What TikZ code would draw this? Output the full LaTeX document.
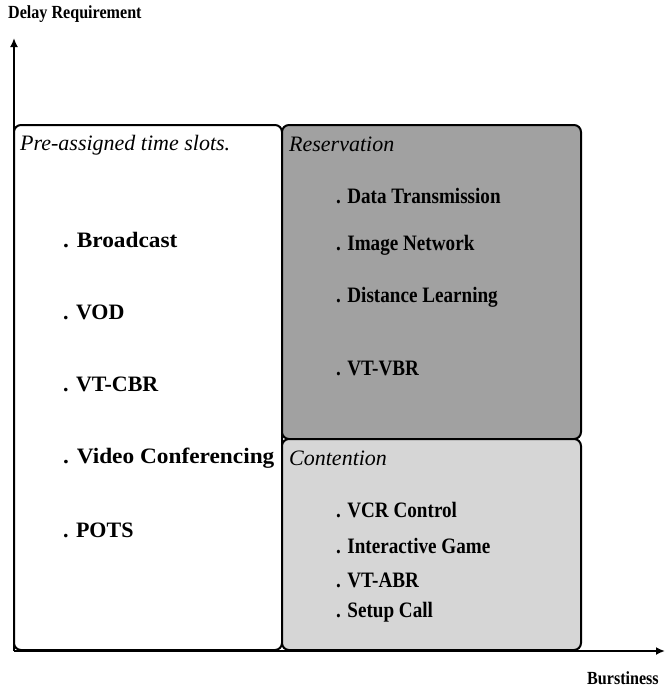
\documentclass[tikz,border=0pt]{standalone}
\usepackage{fontspec}
\setmainfont{Liberation Serif}
\newfontfamily\condbf[FakeStretch=0.87]{Liberation Serif Bold}
\newfontfamily\widebf{Liberation Serif Bold}
\newfontfamily\widerbf[FakeStretch=1.06]{Liberation Serif Bold}
\newfontfamily\itfont{Liberation Serif Italic}
\usetikzlibrary{arrows.meta}
\begin{document}
\begin{tikzpicture}[x=1pt,y=-1pt,
  boxline/.style={draw=black,line width=2pt,rounded corners=7pt},
  axisline/.style={draw=black,line width=2.4pt,-{Latex[length=9pt,width=8pt]}},
  cat/.style={anchor=west,inner sep=0pt,font=\itfont\fontsize{22}{24}\selectfont},
  item/.style={anchor=west,inner sep=0pt,font=\condbf\fontsize{22}{24}\selectfont},
  leftitem/.style={anchor=west,inner sep=0pt,font=\widebf\fontsize{22}{24}\selectfont},
  wideitem/.style={leftitem,font=\widerbf\fontsize{22}{24}\selectfont},
  axlabel/.style={anchor=west,inner sep=0pt,font=\condbf\fontsize{18.5}{20}\selectfont}]
\useasboundingbox (0,0) rectangle (665,689);
% boxes
\path[boxline,fill=white] (14,125) rectangle (282,650);
\path[boxline,fill=black!37] (282,125) rectangle (581,439);
\path[boxline,fill=black!16] (282,439) rectangle (581,650);
% axes
\coordinate (o) at (14,651);
\coordinate (ytip) at (14,38);
\coordinate (xtip) at (665,651);
\draw[axisline] (o) -- (ytip);
\draw[axisline] (o) -- (xtip);
% axis labels
\node[axlabel] (ylab) at (8,14) {Delay Requirement};
\node[axlabel] (xlab) at (587,678) {Burstiness};
% category titles
\node[cat] (pre) at (20,145) {Pre-assigned time slots.};
\node[cat] (res) at (289,144) {Reservation};
\node[cat] (con) at (289,458) {Contention};
% left items
\node[wideitem] (l1) at (63,240) {. Broadcast};
\node[leftitem] (l2) at (63,312) {. VOD};
\node[leftitem] (l3) at (63,384) {. VT-CBR};
\node[wideitem] (l4) at (63,458) {. Video Conferencing};
\node[leftitem] (l5) at (63,530) {. POTS};
% reservation items
\node[item] (r1) at (336,196) {. Data Transmission};
\node[item] (r2) at (336,245) {. Image Network};
\node[item] (r3) at (336,297) {. Distance Learning};
\node[item] (r4) at (336,368) {. VT-VBR};
% contention items
\node[item] (c1) at (336,510) {. VCR Control};
\node[item] (c2) at (336,546) {. Interactive Game};
\node[item] (c3) at (336,580) {. VT-ABR};
\node[item] (c4) at (336,612) {. Setup Call};
\end{tikzpicture}
\end{document}
